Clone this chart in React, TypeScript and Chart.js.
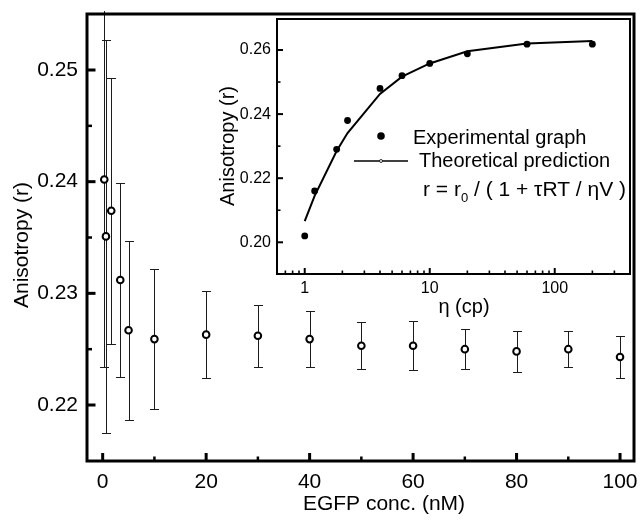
import React, { useEffect, useRef } from 'react';
import { Chart, registerables } from 'chart.js';

Chart.register(...registerables);

const FONT = '"Liberation Sans", Arial, Helvetica, sans-serif';

// ---------- main plot data ----------
const concX = [0.31, 0.63, 1.66, 3.4, 5, 10, 20, 30, 40, 50, 60, 70, 80, 90, 100];
const anisoY = [0.2402, 0.2351, 0.2374, 0.2312, 0.2267, 0.2259, 0.2263, 0.2262, 0.2259, 0.2253, 0.2253, 0.225, 0.2248, 0.225, 0.2243];
const anisoErr = [0.0168, 0.0176, 0.0119, 0.0087, 0.008, 0.0063, 0.0039, 0.0028, 0.0025, 0.0021, 0.0022, 0.0018, 0.0018, 0.0016, 0.0019];
const mainXTicks = [0, 20, 40, 60, 80, 100];
const mainXMinor = [10, 30, 50, 70, 90];
const mainYTicks = [0.22, 0.23, 0.24, 0.25];
const mainYMinor = [0.225, 0.235, 0.245];

// ---------- inset data ----------
const etaX = [1, 1.2, 1.8, 2.2, 4, 6, 10, 20, 60, 200];
const expY = [0.202, 0.216, 0.229, 0.238, 0.248, 0.252, 0.2558, 0.2588, 0.2618, 0.2618];
const theoY = [0.2066, 0.2145, 0.2285, 0.2341, 0.2463, 0.2517, 0.2558, 0.2596, 0.262, 0.2628];
const insetXTicks = [1, 10, 100];
const insetXMinor = [0.6, 0.7, 0.8, 0.9, 2, 3, 4, 5, 6, 7, 8, 9, 20, 30, 40, 50, 60, 70, 80, 90, 200, 300];
const insetYTicks = [0.2, 0.22, 0.24, 0.26];
const insetYMinor = [0.21, 0.23, 0.25];

const seg = (ctx: CanvasRenderingContext2D, x1: number, y1: number, x2: number, y2: number) => {
  ctx.beginPath();
  ctx.moveTo(x1, y1);
  ctx.lineTo(x2, y2);
  ctx.stroke();
};

const mainDecor = {
  id: 'mainDecor',
  beforeDatasetsDraw(chart: any) {
    const { ctx, chartArea: a } = chart;
    const x = chart.scales.x;
    const y = chart.scales.y;
    ctx.save();
    ctx.beginPath();
    ctx.rect(a.left, a.top - 3, a.right - a.left, a.bottom - a.top + 3);
    ctx.clip();
    ctx.strokeStyle = '#1c1c1c';
    ctx.lineWidth = 1;
    concX.forEach((cx, i) => {
      const px = Math.round(x.getPixelForValue(cx)) + 0.5;
      const yt = Math.round(y.getPixelForValue(anisoY[i] + anisoErr[i])) + 0.5;
      const yb = Math.round(y.getPixelForValue(anisoY[i] - anisoErr[i])) + 0.5;
      seg(ctx, px, yt, px, yb);
      seg(ctx, px - 4.5, yt, px + 4.5, yt);
      seg(ctx, px - 4.5, yb, px + 4.5, yb);
    });
    ctx.restore();
  },
  afterDraw(chart: any) {
    const { ctx, chartArea: a } = chart;
    const x = chart.scales.x;
    const y = chart.scales.y;
    ctx.save();
    ctx.strokeStyle = '#000';
    ctx.lineWidth = 3;
    mainXTicks.forEach((v) => {
      const p = x.getPixelForValue(v);
      seg(ctx, p, a.bottom, p, a.bottom - 8);
    });
    mainYTicks.forEach((v) => {
      const p = y.getPixelForValue(v);
      seg(ctx, a.left, p, a.left + 8.5, p);
    });
    ctx.lineWidth = 2.5;
    mainXMinor.forEach((v) => {
      const p = x.getPixelForValue(v);
      seg(ctx, p, a.bottom, p, a.bottom - 4.5);
    });
    mainYMinor.forEach((v) => {
      const p = y.getPixelForValue(v);
      seg(ctx, a.left, p, a.left + 5, p);
    });
    ctx.lineWidth = 3;
    ctx.strokeRect(a.left, a.top, a.right - a.left, a.bottom - a.top);

    ctx.fillStyle = '#000';
    ctx.font = `21px ${FONT}`;
    ctx.textAlign = 'center';
    ctx.textBaseline = 'alphabetic';
    ctx.fillText('EGFP conc. (nM)', 384, 510);
    ctx.translate(28, 245);
    ctx.rotate(-Math.PI / 2);
    ctx.fillText('Anisotropy (r)', 0, 0);
    ctx.restore();
  },
};

const insetDecor = {
  id: 'insetDecor',
  beforeDraw(chart: any) {
    const { ctx, chartArea: a } = chart;
    ctx.save();
    ctx.fillStyle = '#fff';
    ctx.fillRect(a.left, a.top, a.right - a.left, a.bottom - a.top);
    ctx.restore();
  },
  afterDraw(chart: any) {
    const { ctx, chartArea: a } = chart;
    const x = chart.scales.x;
    const y = chart.scales.y;
    ctx.save();
    ctx.strokeStyle = '#000';
    ctx.lineWidth = 2;
    insetXTicks.forEach((v) => {
      const p = x.getPixelForValue(v);
      seg(ctx, p, a.bottom, p, a.bottom - 6);
    });
    insetYTicks.forEach((v) => {
      const p = y.getPixelForValue(v);
      seg(ctx, a.left, p, a.left + 6, p);
    });
    ctx.lineWidth = 1.6;
    insetXMinor.forEach((v) => {
      const p = x.getPixelForValue(v);
      seg(ctx, p, a.bottom, p, a.bottom - 3.5);
    });
    insetYMinor.forEach((v) => {
      const p = y.getPixelForValue(v);
      seg(ctx, a.left, p, a.left + 3.5, p);
    });
    ctx.lineWidth = 2;
    ctx.strokeRect(a.left, a.top, a.right - a.left, a.bottom - a.top);

    // axis titles
    ctx.fillStyle = '#000';
    ctx.textAlign = 'center';
    ctx.textBaseline = 'alphabetic';
    ctx.font = `20px ${FONT}`;
    ctx.fillText('\u03B7 (cp)', 464, 313);
    ctx.save();
    ctx.translate(234, 146);
    ctx.rotate(-Math.PI / 2);
    ctx.fillText('Anisotropy (r)', 0, 0);
    ctx.restore();

    // legend
    ctx.textAlign = 'left';
    ctx.beginPath();
    ctx.arc(381, 136, 3.8, 0, Math.PI * 2);
    ctx.fill();
    ctx.fillText('Experimental graph', 413, 144);
    ctx.lineWidth = 1.6;
    seg(ctx, 354, 161, 408, 161);
    ctx.fillStyle = '#fff';
    ctx.lineWidth = 0.8;
    ctx.beginPath();
    ctx.arc(381, 161, 1.5, 0, Math.PI * 2);
    ctx.fill();
    ctx.stroke();
    ctx.fillStyle = '#000';
    ctx.fillText('Theoretical prediction', 419, 167);
    let cx = 423;
    const base = 196;
    ctx.font = `21px ${FONT}`;
    const p1 = 'r = r';
    ctx.fillText(p1, cx, base);
    cx += ctx.measureText(p1).width;
    ctx.font = `13px ${FONT}`;
    ctx.fillText('0', cx, base + 6);
    cx += ctx.measureText('0').width;
    ctx.font = `21px ${FONT}`;
    ctx.fillText(' / ( 1 + \u03C4RT / \u03B7V )', cx, base);
    ctx.restore();
  },
};

export default function App() {
  const mainRef = useRef<HTMLCanvasElement>(null);
  const insetRef = useRef<HTMLCanvasElement>(null);

  useEffect(() => {
    const tickFont = { family: FONT, size: 21 };
    const main = new Chart(mainRef.current as HTMLCanvasElement, {
      type: 'scatter',
      data: {
        datasets: [
          {
            data: concX.map((v, i) => ({ x: v, y: anisoY[i] })),
            pointRadius: 3.3,
            pointBorderWidth: 2,
            borderColor: '#000',
            backgroundColor: '#fff',
            pointBackgroundColor: '#fff',
            pointBorderColor: '#000',
          },
        ],
      },
      options: {
        responsive: false,
        animation: false,
        events: [],
        layout: { padding: { top: 14, right: 6, left: 0, bottom: 0 } },
        plugins: { legend: { display: false }, tooltip: { enabled: false } },
        scales: {
          x: {
            type: 'linear',
            min: -3.03,
            max: 102.7,
            grid: { display: false, drawTicks: false },
            border: { display: false },
            afterBuildTicks: (s: any) => {
              s.ticks = mainXTicks.map((v) => ({ value: v }));
            },
            afterFit: (s: any) => {
              s.height = 59;
              s.paddingLeft = 0;
              s.paddingRight = 0;
            },
            ticks: {
              font: tickFont,
              color: '#000',
              padding: 9,
              autoSkip: false,
              maxRotation: 0,
              callback: (v: any) => String(v),
            },
          },
          y: {
            type: 'linear',
            min: 0.214986,
            max: 0.255015,
            grid: { display: false, drawTicks: false },
            border: { display: false },
            afterBuildTicks: (s: any) => {
              s.ticks = mainYTicks.map((v) => ({ value: v }));
            },
            afterFit: (s: any) => {
              s.width = 87;
              s.paddingTop = 0;
              s.paddingBottom = 0;
            },
            ticks: {
              font: tickFont,
              color: '#000',
              padding: 9,
              autoSkip: false,
              callback: (v: any) => Number(v).toFixed(2),
            },
          },
        },
      },
      plugins: [mainDecor],
    } as any);

    const insetFont = { family: FONT, size: 16 };
    const inset = new Chart(insetRef.current as HTMLCanvasElement, {
      type: 'scatter',
      data: {
        datasets: [
          {
            data: etaX.map((v, i) => ({ x: v, y: expY[i] })),
            pointRadius: 3.4,
            pointBorderWidth: 0,
            pointBackgroundColor: '#000',
            backgroundColor: '#000',
            borderColor: '#000',
          },
          {
            data: etaX.map((v, i) => ({ x: v, y: theoY[i] })),
            showLine: true,
            borderColor: '#000',
            borderWidth: 2,
            pointRadius: 0,
            tension: 0,
          },
        ],
      },
      options: {
        responsive: false,
        animation: false,
        events: [],
        layout: { padding: { top: 19, right: 10, left: 0, bottom: 206 } },
        plugins: { legend: { display: false }, tooltip: { enabled: false } },
        scales: {
          x: {
            type: 'logarithmic',
            min: 0.6,
            max: 400,
            grid: { display: false, drawTicks: false },
            border: { display: false },
            afterBuildTicks: (s: any) => {
              s.ticks = insetXTicks.map((v) => ({ value: v }));
            },
            afterFit: (s: any) => {
              s.height = 40;
              s.paddingLeft = 0;
              s.paddingRight = 0;
            },
            ticks: {
              font: insetFont,
              color: '#000',
              padding: 5,
              autoSkip: false,
              maxRotation: 0,
              callback: (v: any) => String(v),
            },
          },
          y: {
            type: 'linear',
            min: 0.19011,
            max: 0.26967,
            grid: { display: false, drawTicks: false },
            border: { display: false },
            afterBuildTicks: (s: any) => {
              s.ticks = insetYTicks.map((v) => ({ value: v }));
            },
            afterFit: (s: any) => {
              s.width = 277;
              s.paddingTop = 0;
              s.paddingBottom = 0;
            },
            ticks: {
              font: insetFont,
              color: '#000',
              padding: 6,
              autoSkip: false,
              callback: (v: any) => Number(v).toFixed(2),
            },
          },
        },
      },
      plugins: [insetDecor],
    } as any);

    return () => {
      main.destroy();
      inset.destroy();
    };
  }, []);

  return (
    <div style={{ position: 'fixed', left: 0, top: 0, width: 640, height: 520, background: '#fff' }}>
      <canvas ref={mainRef} width={640} height={520} style={{ position: 'absolute', left: 0, top: 0 }} />
      <canvas ref={insetRef} width={640} height={520} style={{ position: 'absolute', left: 0, top: 0 }} />
    </div>
  );
}
